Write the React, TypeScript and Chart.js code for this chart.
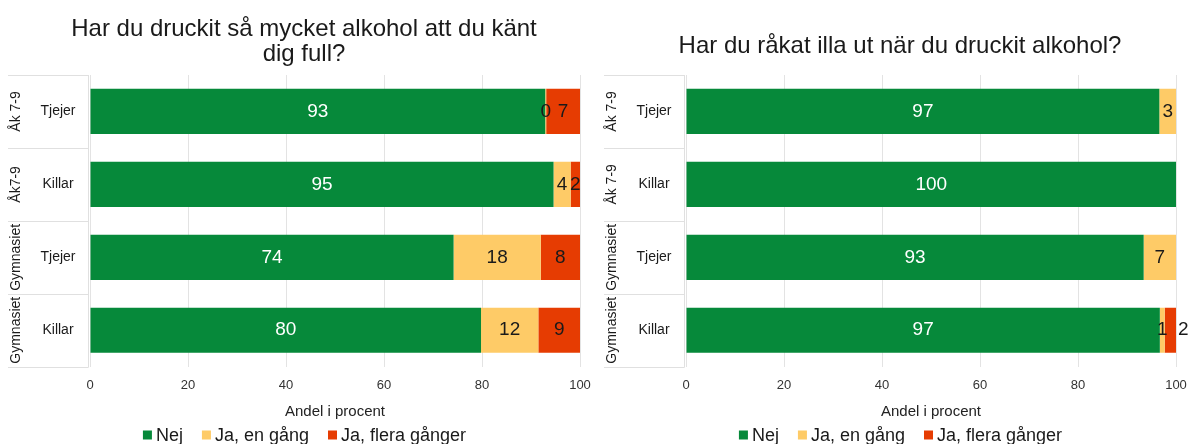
import React, { useEffect, useRef } from "react";
import { Chart, registerables } from "chart.js";

Chart.register(...registerables);

const FONT = '"Liberation Sans", Arial, Helvetica, sans-serif';

const categories = ["Tjejer", "Killar", "Tjejer", "Killar"];
const groupsLeft = ["Åk 7-9", "Åk7-9", "Gymnasiet", "Gymnasiet"];
const groupsRight = ["Åk 7-9", "Åk 7-9", "Gymnasiet", "Gymnasiet"];
const seriesNames = ["Nej", "Ja, en gång", "Ja, flera gånger"];
const seriesColors = ["#06893A", "#FECB67", "#E63C02"];
const labelColors = ["#ffffff", "#1a1a1a", "#1a1a1a"];

const leftNej = [92.9, 94.6, 74.2, 79.8];
const leftEnGang = [0.2, 3.5, 17.8, 11.7];
const leftFlera = [6.9, 1.9, 8.0, 8.5];

const rightNej = [96.6, 100, 93.4, 96.7];
const rightEnGang = [3.4, 0, 6.6, 1.0];
const rightFlera = [0, 0, 0, 2.3];

const xTicks = [0, 20, 40, 60, 80, 100];
const xTitle = "Andel i procent";
const titleLeft = ["Har du druckit så mycket alkohol att du känt", "dig full?"];
const titleRight = ["Har du råkat illa ut när du druckit alkohol?"];

function makePlugin(title: string[], groups: string[]) {
  return {
    id: "panelDecor",
    afterDatasetsDraw(chart: any) {
      const ctx = chart.ctx;
      ctx.save();
      ctx.font = `19px ${FONT}`;
      ctx.textBaseline = "middle";
      const lastRight: number[] = categories.map(() => -Infinity);
      chart.data.datasets.forEach((ds: any, di: number) => {
        const meta = chart.getDatasetMeta(di);
        meta.data.forEach((el: any, i: number) => {
          const v = ds.data[i];
          if (!(v > 0)) return;
          const txt = String(Math.round(v));
          const w = ctx.measureText(txt).width;
          const cx = (el.x + el.base) / 2;
          let left = cx - w / 2;
          if (left < lastRight[i] - 1) {
            left = Math.max(el.x, el.base) + 2;
          }
          ctx.fillStyle = labelColors[di];
          ctx.textAlign = "left";
          ctx.fillText(txt, left, el.y);
          lastRight[i] = left + w;
        });
      });
      ctx.restore();
    },
    afterDraw(chart: any) {
      const ctx = chart.ctx;
      const ca = chart.chartArea;
      const yScale = chart.scales.y;
      ctx.save();
      // title
      ctx.fillStyle = "#1a1a1a";
      ctx.font = `24px ${FONT}`;
      ctx.textAlign = "center";
      ctx.textBaseline = "alphabetic";
      const baselines = title.length === 2 ? [36, 61] : [53];
      title.forEach((t, i) => ctx.fillText(t, 304, baselines[i]));

      // label boxes
      const n = categories.length;
      const h = (ca.bottom - ca.top) / n;
      ctx.strokeStyle = "#e0e0e0";
      ctx.lineWidth = 1;
      ctx.beginPath();
      for (let i = 0; i < n; i++) {
        const c = yScale.getPixelForValue(i);
        const yTop = Math.round(c - h / 2) + 0.5;
        ctx.moveTo(8, yTop);
        ctx.lineTo(ca.left - 2, yTop);
        if (i === n - 1) {
          const yb = Math.round(c + h / 2) + 0.5;
          ctx.moveTo(8, yb);
          ctx.lineTo(ca.left - 2, yb);
        }
      }
      ctx.moveTo(ca.left - 1.5, ca.top);
      ctx.lineTo(ca.left - 1.5, ca.bottom + 1);
      ctx.stroke();

      ctx.fillStyle = "#1a1a1a";
      ctx.font = `14px ${FONT}`;
      ctx.textBaseline = "middle";
      for (let i = 0; i < n; i++) {
        const c = yScale.getPixelForValue(i);
        ctx.textAlign = "center";
        ctx.fillText(categories[i], 58, c);
        ctx.save();
        ctx.translate(16, c);
        ctx.rotate(-Math.PI / 2);
        ctx.fillText(groups[i], 0, 0);
        ctx.restore();
      }

      // legend
      ctx.font = `18px ${FONT}`;
      const box = 9;
      const gap = 4;
      const itemGap = 19;
      const widths = seriesNames.map((s) => ctx.measureText(s).width);
      let total = 0;
      widths.forEach((w, i) => {
        total += box + gap + w + (i < widths.length - 1 ? itemGap : 0);
      });
      let x = 304.5 - total / 2;
      const ly = 435;
      ctx.textAlign = "left";
      ctx.textBaseline = "middle";
      seriesNames.forEach((s, i) => {
        ctx.fillStyle = seriesColors[i];
        ctx.fillRect(x, ly - box / 2, box, box);
        x += box + gap;
        ctx.fillStyle = "#1a1a1a";
        ctx.fillText(s, x, ly + 1);
        x += widths[i] + itemGap;
      });
      ctx.restore();
    },
  };
}

function Panel(props: {
  title: string[];
  groups: string[];
  nej: number[];
  en: number[];
  flera: number[];
}) {
  const ref = useRef<HTMLCanvasElement>(null);
  useEffect(() => {
    const series = [props.nej, props.en, props.flera];
    const chart = new Chart(ref.current as HTMLCanvasElement, {
      type: "bar",
      data: {
        labels: categories,
        datasets: series.map((d, i) => ({
          label: seriesNames[i],
          data: d,
          backgroundColor: seriesColors[i],
          borderWidth: 0,
          barPercentage: 0.62,
          categoryPercentage: 1,
        })),
      },
      options: {
        indexAxis: "y",
        responsive: false,
        animation: false,
        devicePixelRatio: 1,
        layout: { padding: { left: 90, right: 16, top: 75, bottom: 24.7 } },
        plugins: {
          legend: { display: false },
          tooltip: { enabled: false },
          title: { display: false },
        },
        scales: {
          x: {
            stacked: true,
            min: 0,
            max: 100,
            afterBuildTicks: (s: any) => {
              s.ticks = xTicks.map((v) => ({ value: v }));
            },
            afterFit: (s: any) => {
              s.paddingLeft = 0;
              s.paddingRight = 0;
            },
            ticks: {
              font: { size: 13, family: FONT, lineHeight: 1.2 },
              color: "#333333",
              padding: 11,
            },
            grid: { color: "#e3e3e3", drawTicks: false },
            border: { display: false },
            title: {
              display: true,
              text: xTitle,
              font: { size: 15, family: FONT, lineHeight: 1 },
              color: "#222222",
              padding: 0,
            },
          },
          y: {
            stacked: true,
            display: false,
          },
        },
      } as any,
      plugins: [makePlugin(props.title, props.groups) as any],
    });
    return () => chart.destroy();
  }, []);
  return (
    <canvas
      ref={ref}
      width={596}
      height={444}
      style={{ display: "block", width: 596, height: 444 }}
    />
  );
}

export default function App() {
  return (
    <div
      style={{
        position: "fixed",
        left: 0,
        top: 0,
        width: 1192,
        height: 444,
        background: "#ffffff",
        display: "flex",
      }}
    >
      <Panel title={titleLeft} groups={groupsLeft} nej={leftNej} en={leftEnGang} flera={leftFlera} />
      <Panel title={titleRight} groups={groupsRight} nej={rightNej} en={rightEnGang} flera={rightFlera} />
    </div>
  );
}
